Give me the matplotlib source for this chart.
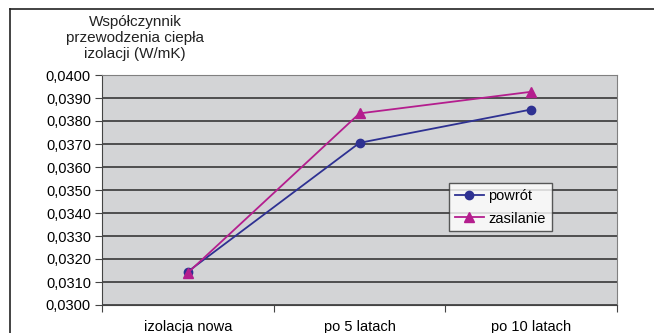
import matplotlib
matplotlib.use('Agg')
import matplotlib.pyplot as plt
from matplotlib.ticker import FuncFormatter, MultipleLocator

plt.rcParams['font.family'] = ['Liberation Sans', 'DejaVu Sans']

categories = ['izolacja nowa', 'po 5 latach', 'po 10 latach']
powrot = [0.03145, 0.03705, 0.03850]
zasilanie = [0.03140, 0.03833, 0.03927]

BLUE = '#2e3192'
MAGENTA = '#b41e8e'

fig = plt.figure(figsize=(6.54, 3.33), dpi=100)
ax = fig.add_axes([102/654, 1 - 305/333, (617 - 102)/654, (305 - 75)/333])

x = list(range(len(categories)))
ax.plot(x, powrot, color=BLUE, lw=1.3, marker='o', ms=6, label='powrót')
ax.plot(x, zasilanie, color=MAGENTA, lw=1.3, marker='^', ms=7, label='zasilanie')

ax.set_facecolor('#d3d4d6')
ax.set_xlim(-0.5, 2.5)
ax.set_ylim(0.0300, 0.0400)
ax.yaxis.set_major_locator(MultipleLocator(0.001))
ax.yaxis.set_major_formatter(FuncFormatter(lambda v, p: f'{v:.4f}'.replace('.', ',')))
ax.grid(axis='y', color='#2a2a2a', lw=1.1)
ax.set_axisbelow(True)

ax.set_xticks([-0.5, 0.5, 1.5, 2.5])
ax.set_xticklabels([])
ax.set_xticks(x, minor=True)
ax.set_xticklabels(categories, minor=True)
ax.tick_params(axis='x', which='minor', length=0, pad=11, labelsize=10.5)
ax.tick_params(axis='x', which='major', length=5, color='#444444')
ax.tick_params(axis='y', length=5, labelsize=10.5, color='#444444', pad=3)

for s in ['top', 'right']:
    ax.spines[s].set_color('#808080')
for s in ['left', 'bottom']:
    ax.spines[s].set_color('#444444')

fig.text(135/654, 1 - 38/333, 'Współczynnik\nprzewodzenia ciepła\nizolacji (W/mK)',
         ha='center', va='center', fontsize=11, linespacing=1.2, color='#222222')

leg = ax.legend(loc='upper left', bbox_to_anchor=((449 - 102)/515, (305 - 183)/230),
                frameon=True, fancybox=False, fontsize=10.5, handlelength=2.0,
                borderaxespad=0, handletextpad=0.3, labelspacing=0.6, borderpad=0.4)
leg.get_frame().set_edgecolor('#333333')
leg.get_frame().set_facecolor('white')
leg.get_frame().set_linewidth(1)

# outer chart frame
fig.add_artist(plt.Line2D([10/654, 10/654], [0, 1 - 9/333], color='#222222', lw=1.2))
fig.add_artist(plt.Line2D([10/654, 1], [1 - 9/333, 1 - 9/333], color='#222222', lw=1.2))

fig.savefig('out.png', dpi=100)
